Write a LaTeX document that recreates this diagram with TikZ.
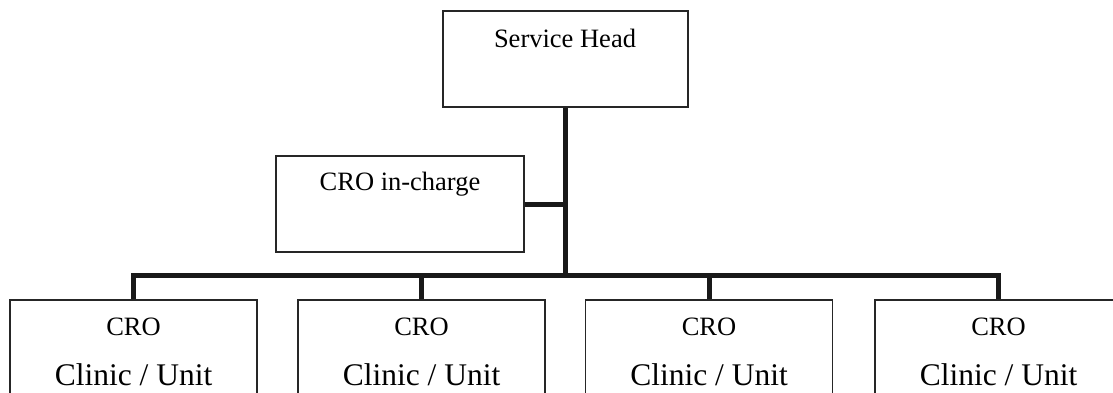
\documentclass[tikz,border=0pt]{standalone}
\usepackage{fontspec}
\setmainfont{Liberation Serif}
\usepackage{tikz}

\tikzset{
  box/.style={rectangle,draw=black!85,line width=1.5pt,minimum width=247pt,minimum height=96pt,inner sep=0pt},
  txt/.style={anchor=base,inner sep=0pt,font=\fontsize{26.5}{30}\selectfont},
  big/.style={anchor=base,inner sep=0pt,font=\fontsize{31.5}{36}\selectfont},
  link/.style={draw=black!90,line width=5pt}
}

\begin{document}
\begin{tikzpicture}[x=1pt,y=-1pt]
                    \useasboundingbox (0,0) rectangle (1113,392);
                    \clip (0,0) rectangle (1113,392);
                    % Head
                    \draw (565.5,59) node[box,minimum width=245pt] (SH) {};
                    \node[txt] (SHt) at (565,47) {Service Head};
                    % In-charge
                    \draw (400,204) node[box,minimum width=248pt] (CI) {};
                    \node[txt] (CIt) at (400,190) {CRO in-charge};
                    % Units
                    \draw (133.5,348) node[box] (B1) {};
                    \node[txt] (B1a) at (133.5,335) {CRO};
                    \node[big] (B1b) at (133.5,385) {Clinic / Unit};
                    \draw (421.5,348) node[box] (B2) {};
                    \node[txt] (B2a) at (421.5,335) {CRO};
                    \node[big] (B2b) at (421.5,385) {Clinic / Unit};
                    \draw (709,348) node[box] (B3) {};
                    \node[txt] (B3a) at (709,335) {CRO};
                    \node[big] (B3b) at (709,385) {Clinic / Unit};
                    \draw (998.5,348) node[box] (B4) {};
                    \node[txt] (B4a) at (998.5,335) {CRO};
                    \node[big] (B4b) at (998.5,385) {Clinic / Unit};
                    % Links
                    \coordinate (bar) at (0,275);
                    \draw [link] (SH.south) -- (SH.south |- bar);
                    \draw [link] (CI.east) -- (CI.east -| SH.south);
                    \draw [link] (B1.north) -- (B1.north |- bar) -- (B4.north |- bar) -- (B4.north);
                    \draw [link] (B2.north) -- (B2.north |- bar);
                    \draw [link] (B3.north) -- (B3.north |- bar);
                \end{tikzpicture}
\end{document}
